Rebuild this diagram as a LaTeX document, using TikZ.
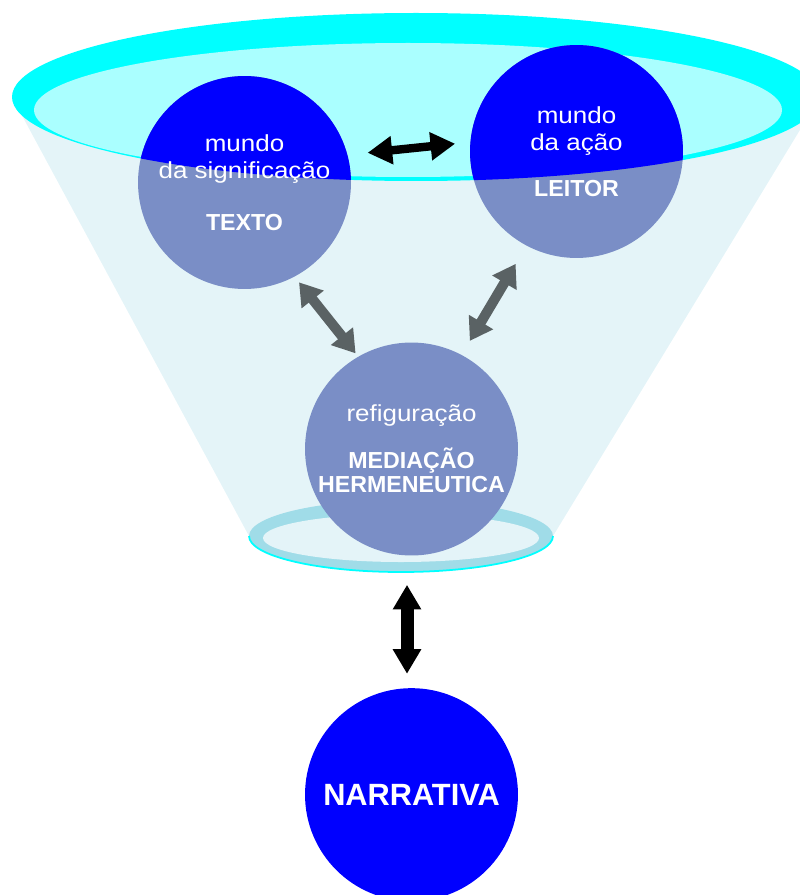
\documentclass[tikz,border=0pt]{standalone}
\usepackage{fontspec}
\setmainfont{Liberation Sans}
\newfontfamily\widefont[FakeStretch=1.12]{Liberation Sans}
\usepackage{tikz}
\usetikzlibrary{positioning,arrows.meta,calc}
\pgfdeclarelayer{background}
\pgfsetlayers{background,main}
\definecolor{funcyan}{HTML}{00FFFF}
\definecolor{funpale}{HTML}{AAFFFF}
\definecolor{funbody}{HTML}{E4F4F8}
\definecolor{funring}{HTML}{A0DCE8}
\definecolor{funlav}{HTML}{7A8EC6}
\definecolor{funblue}{HTML}{0000FF}
\definecolor{fungray}{HTML}{5A6264}
\newcommand{\wordsize}{\fontsize{13.2pt}{15.6pt}\selectfont}
\newcommand{\tagword}[1]{{\normalfont\bfseries\fontsize{13.2pt}{15.6pt}\selectfont #1}}
\tikzset{
    world/.style={circle,minimum size=4.26cm,inner sep=0pt,text=white,align=center,font=\widefont\wordsize},
    link/.style={draw=fungray,line width=5.7pt,{Triangle[length=12.5pt,width=15.3pt]}-{Triangle[length=12.5pt,width=15.3pt]}},
    tie/.style={draw=black,line width=4.8pt,{Triangle[length=14pt,width=15.3pt]}-{Triangle[length=14pt,width=15.3pt]}},
}

\begin{document}
\begin{tikzpicture}[x=0.02cm,y=-0.02cm]
    \useasboundingbox (0,0) rectangle (799,895);

    \node[world] (texto) at (244.5,182.5) {mundo\\da significação\\[13.7pt]\tagword{TEXTO}};
    \node[world] (leitor) at (576.5,151.5) {mundo\\da ação\\[10.3pt]\tagword{LEITOR}};
    \node[world,fill=funlav] (mediacao) at (411.5,449) {refiguração\\[10.9pt]\tagword{MEDIAÇÃO}\\[-1.8pt]\tagword{HERMENEUTICA}};
    \node[world,fill=funblue,below=2.64cm of mediacao] (narrativa) {\tagword{\fontsize{17.5pt}{20pt}\selectfont NARRATIVA}};

    % funnel, rims and the two upper worlds go underneath
    \begin{pgfonlayer}{background}
        \fill[funbody] (12,97) -- (249,536) -- (553,536) -- (820,97) -- cycle;
        \fill[funcyan] (416,97) ellipse[x radius=404,y radius=84];
        \fill[funpale] (408,110) ellipse[x radius=374,y radius=67];
        \fill[funring] (401,536) ellipse[x radius=152,y radius=36];
        \draw[funcyan,line width=1pt] (249,536) arc[start angle=180,end angle=0,x radius=152,y radius=36];
        \fill[funbody] (401,538) ellipse[x radius=138,y radius=24];
        \fill[funlav] (texto.center) circle[radius=2.13cm];
        \fill[funlav] (leitor.center) circle[radius=2.13cm];
        \begin{scope}
            \clip (416,97) ellipse[x radius=404,y radius=84];
            \fill[funblue] (texto.center) circle[radius=2.13cm];
            \fill[funblue] (leitor.center) circle[radius=2.13cm];
        \end{scope}
    \end{pgfonlayer}

    \draw[tie,shorten <=0.4cm,shorten >=0.3cm] (texto.15) -- (leitor.175);
    \draw[link,shorten <=0.14cm,shorten >=0.08cm] (texto.-62) -- (mediacao.120);
    \draw[link,shorten <=0.32cm,shorten >=0.42cm] (mediacao.62) -- (leitor.-118);
    \draw[tie,line width=7.4pt,shorten <=0.58cm,shorten >=0.28cm] ([xshift=-0.09cm]mediacao.south) -- ([xshift=-0.09cm]narrativa.north);
\end{tikzpicture}
\end{document}
